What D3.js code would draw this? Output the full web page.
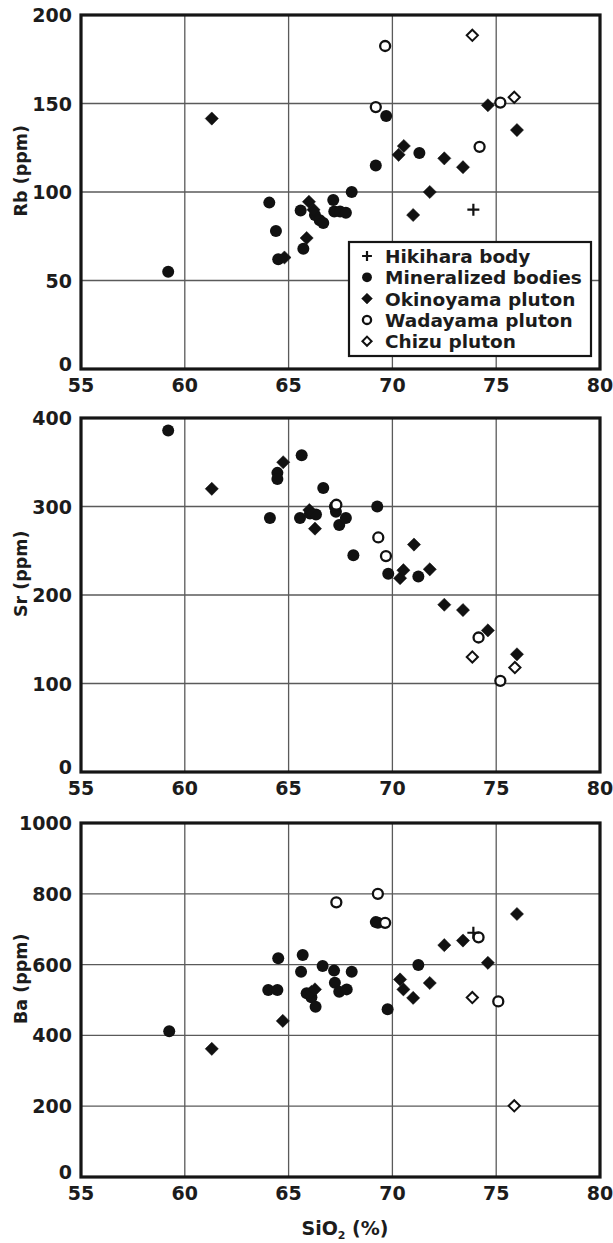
<!DOCTYPE html>
<meta charset="utf-8">
<style>
body{margin:0;background:#fff}
text{font-family:"DejaVu Sans",sans-serif;font-weight:bold;fill:#1c1c1c}
.grid line{stroke:#5a5a5a;stroke-width:1.3}
.frame{fill:none;stroke:#151515;stroke-width:3.2}
.legend rect{fill:#fff;stroke:#151515;stroke-width:2.2}
</style>
<body>
<script src="https://d3js.org/d3.v7.min.js"></script>
<script>

// SiO2 (%) on x, shared by all three panels
var silicaTicks = [55,60,65,70,75,80];
var rbTicks = [0,50,100,150,200];
var srTicks = [0,100,200,300,400];
var baTicks = [0,200,400,600,800,1000];

var seriesNames = ["Hikihara body","Mineralized bodies","Okinoyama pluton","Wadayama pluton","Chizu pluton"];

// Rb (ppm)
var hikiharaRb = [[73.9,90]];
var mineralizedRb = [[59.2,55],[64.07,94],[64.39,78],[64.5,62],[65.58,89.5],[65.71,68],[66.27,87],[66.5,84],
	[66.67,82.5],[67.15,95.5],[67.2,89],[67.48,89],[67.76,88.3],[68.04,100],[69.2,115],[69.7,143],[71.3,122]];
var okinoyamaRb = [[61.3,141.5],[64.8,63],[65.87,74],[65.98,94.5],[66.2,90],[70.3,121],[70.55,126],[71.0,87],
	[71.8,100],[72.5,119],[73.4,114],[74.6,149],[76.0,135]];
var wadayamaRb = [[69.2,148],[69.65,182.5],[74.2,125.5],[75.2,150.5]];
var chizuRb = [[73.85,188.5],[75.87,153.5]];

// Sr (ppm)
var hikiharaSr = [];
var mineralizedSr = [[59.2,386],[64.1,287],[64.46,338],[64.46,331],[65.63,358],[65.55,287],[66.03,292],[66.32,291],
	[66.67,321],[67.23,300],[67.28,294],[67.44,279],[67.76,287],[68.12,245],[69.27,300],[69.8,224],[71.25,221]];
var okinoyamaSr = [[61.3,320],[64.74,350],[66.0,296],[66.27,275],[70.37,219],[70.53,228],[71.04,257],[71.8,229],
	[72.5,189],[73.4,183],[74.6,160],[76.0,133]];
var wadayamaSr = [[67.3,302],[69.32,265],[69.69,244],[74.15,152],[75.2,103]];
var chizuSr = [[73.85,130],[75.9,118]];

// Ba (ppm)
var hikiharaBa = [[73.9,690]];
var mineralizedBa = [[59.25,412],[64.02,528],[64.46,528],[64.5,618],[65.6,580],[65.68,627],[65.87,519],[66.1,508],
	[66.3,481],[66.64,596],[67.19,583],[67.23,549],[67.44,523],[67.8,530],[68.04,580],[69.2,720],[69.3,718],[69.77,474],[71.25,599]];
var okinoyamaBa = [[61.3,362],[64.72,441],[66.1,523],[66.27,530],[70.37,558],[70.53,530],[71.0,506],[71.8,548],
	[72.5,655],[73.4,668],[74.6,605],[76.0,743]];
var wadayamaBa = [[67.3,776],[69.3,800],[69.65,718],[74.15,677],[75.1,496]];
var chizuBa = [[73.85,507],[75.87,201]];

var panels = [
	{title:"Rb (ppm)", ticks:rbTicks, data:[hikiharaRb,mineralizedRb,okinoyamaRb,wadayamaRb,chizuRb], top:15, legend:true},
	{title:"Sr (ppm)", ticks:srTicks, data:[hikiharaSr,mineralizedSr,okinoyamaSr,wadayamaSr,chizuSr], top:418},
	{title:"Ba (ppm)", ticks:baTicks, data:[hikiharaBa,mineralizedBa,okinoyamaBa,wadayamaBa,chizuBa], top:823}
];

var W = 613, H = 1243, left = 81, right = 600, ph = 354;
var svg = d3.select("body").append("svg").attr("width",W).attr("height",H);

var x = d3.scaleLinear().domain([55,80]).range([left,right]);

// marker drawing, k = scale factor (legend uses smaller ones)
function marker(sel, kind, k){
	if(kind==1){
		sel.append("circle").attr("r",6*k).attr("fill","#111");
	} else if(kind==3){
		sel.append("circle").attr("r",5*k).attr("fill","#fff").attr("stroke","#111").attr("stroke-width",2.3);
	} else if(kind==2 || kind==4){
		var s = (kind==2? 6.6: 5.6)*k;
		sel.append("path").attr("d","M0,"+(-s)+"L"+s+",0L0,"+s+"L"+(-s)+",0Z")
			.attr("fill",kind==2?"#111":"#fff").attr("stroke","#111").attr("stroke-width",kind==2?0.5:2);
	} else {
		var s = 6*k;
		sel.append("path").attr("d","M"+(-s)+",0H"+s+"M0,"+(-s)+"V"+s)
			.attr("fill","none").attr("stroke","#111").attr("stroke-width",2.2);
	}
}

// draw order: filled first, open after, plus last
var order = [1,2,3,4,0];

panels.forEach(function(p){
	var y = d3.scaleLinear().domain([0,d3.max(p.ticks)]).range([p.top+ph,p.top]);
	var g = svg.append("g");

	var grid = g.append("g").attr("class","grid");
	grid.selectAll(".gx").data(silicaTicks.slice(1,-1)).enter().append("line")
		.attr("x1",d=>x(d)).attr("x2",d=>x(d)).attr("y1",p.top).attr("y2",p.top+ph);
	grid.selectAll(".gy").data(p.ticks.slice(1,-1)).enter().append("line")
		.attr("x1",left).attr("x2",right).attr("y1",d=>y(d)).attr("y2",d=>y(d));

	order.forEach(function(i){
		g.selectAll(".m"+i).data(p.data[i]).enter().append("g")
			.attr("transform",d=>"translate("+x(d[0])+","+y(d[1])+")")
			.each(function(){ marker(d3.select(this), i, 1); });
	});

	g.append("rect").attr("class","frame")
		.attr("x",left).attr("y",p.top).attr("width",right-left).attr("height",ph);

	// tick labels; the 0 sits a little higher so it clears the 55 below it
	g.selectAll(".yl").data(p.ticks).enter().append("text")
		.attr("x",72).attr("y",d=>y(d)+(d==0?2:7)).attr("text-anchor","end")
		.style("font-size","19px").text(d=>d);
	g.selectAll(".xl").data(silicaTicks).enter().append("text")
		.attr("x",d=>x(d)).attr("y",p.top+ph+23).attr("text-anchor","middle")
		.style("font-size","19px").text(d=>d);

	g.append("text").attr("transform","translate(27,"+(p.top+ph*0.44)+") rotate(-90)")
		.attr("text-anchor","middle").style("font-size","17.5px").text(p.title);

	if(p.legend){
		var lg = g.append("g").attr("class","legend")
			.attr("transform","translate("+(right-251)+","+(p.top+227)+")");
		lg.append("rect").attr("width",242).attr("height",114);
		seriesNames.forEach(function(name,i){
			var row = lg.append("g").attr("transform","translate(18,"+(14+i*21.3)+")");
			marker(row, i, 0.82);
			row.append("text").attr("x",18).attr("y",7).style("font-size","18.5px").text(name);
		});
	}
});

var xt = svg.append("text").attr("x",345).attr("y",1235).attr("text-anchor","middle").style("font-size","19px");
xt.append("tspan").text("SiO");
xt.append("tspan").attr("dy",4).style("font-size","11px").text("2");
xt.append("tspan").attr("dy",-4).text(" (%)");

</script>
</body>
